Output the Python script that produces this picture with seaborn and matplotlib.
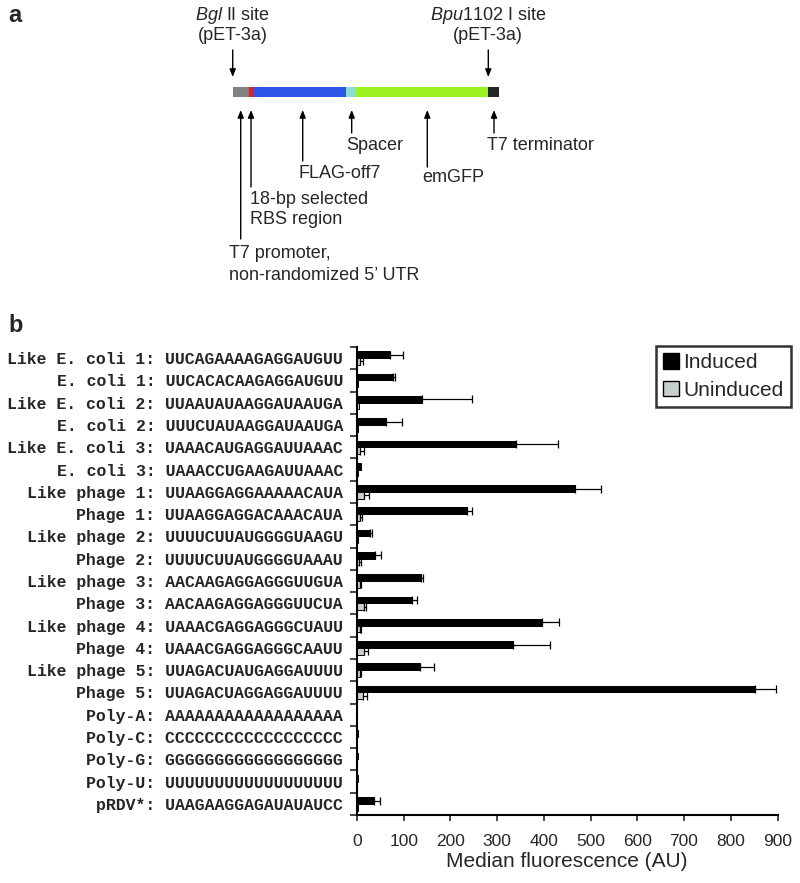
import numpy as np
import pandas as pd
import matplotlib
matplotlib.use('Agg')
import matplotlib.pyplot as plt
from matplotlib.patches import Patch
import seaborn as sns

sns.set_style('white')
plt.rcParams['font.family'] = ['Liberation Sans', 'DejaVu Sans']
plt.rcParams['mathtext.fontset'] = 'custom'
plt.rcParams['mathtext.rm'] = 'Liberation Sans'
plt.rcParams['mathtext.it'] = 'Liberation Sans:italic'

# panel b data
names = ["Like E. coli 1", "E. coli 1", "Like E. coli 2", "E. coli 2",
         "Like E. coli 3", "E. coli 3", "Like phage 1", "Phage 1",
         "Like phage 2", "Phage 2", "Like phage 3", "Phage 3",
         "Like phage 4", "Phage 4", "Like phage 5", "Phage 5",
         "Poly-A", "Poly-C", "Poly-G", "Poly-U", "pRDV*"]
seqs = ["UUCAGAAAAGAGGAUGUU", "UUCACACAAGAGGAUGUU", "UUAAUAUAAGGAUAAUGA",
        "UUUCUAUAAGGAUAAUGA", "UAAACAUGAGGAUUAAAC", "UAAACCUGAAGAUUAAAC",
        "UUAAGGAGGAAAAACAUA", "UUAAGGAGGACAAACAUA", "UUUUCUUAUGGGGUAAGU",
        "UUUUCUUAUGGGGUAAAU", "AACAAGAGGAGGGUUGUA", "AACAAGAGGAGGGUUCUA",
        "UAAACGAGGAGGGCUAUU", "UAAACGAGGAGGGCAAUU", "UUAGACUAUGAGGAUUUU",
        "UUAGACUAGGAGGAUUUU", "AAAAAAAAAAAAAAAAAA", "CCCCCCCCCCCCCCCCCC",
        "GGGGGGGGGGGGGGGGGG", "UUUUUUUUUUUUUUUUUU", "UAAGAAGGAGAUAUAUCC"]
induced = [71, 77, 140, 61, 340, 8, 466, 235, 27, 39, 136, 118,
           395, 333, 135, 851, 1, 1.5, 3, 3, 36]
induced_err = [28, 4, 107, 35, 91, 0, 56, 12, 6, 12, 5, 11,
               38, 80, 30, 46, 0, 0, 0, 0, 14]
uninduced = [7, 2, 5, 2, 7, 2, 14, 6, 3, 5, 6, 14, 6, 14, 6, 13, 1, 1, 1, 1, 2]
uninduced_err = [6, 0, 0, 0, 7, 0, 12, 5, 0, 3, 3, 5, 2, 10, 2, 8, 0, 0, 0, 0, 0]
conditions = ["Induced", "Uninduced"]

# panel a construct segments (diagram units = pixels)
seg_names = ["T7 promoter / 5' UTR", "RBS", "FLAG-off7", "Spacer", "emGFP", "T7 terminator"]
seg_len = [16, 5, 92, 10, 132, 11]
seg_colors = ['#7f8381', '#d8232a', '#2d55e6', '#8ddcd4', '#9cf21e', '#232827']

labels = [f"{n}: {s}" for n, s in zip(names, seqs)]
df = pd.DataFrame({
    'label': labels * 2,
    'value': induced + uninduced,
    'err': induced_err + uninduced_err,
    'condition': [conditions[0]] * len(labels) + [conditions[1]] * len(labels),
})

W, H = 800, 883
fig = plt.figure(figsize=(W / 100, H / 100), dpi=100)

# ---------- panel a ----------
axa = fig.add_axes([0, 0, 1, 1])
axa.set_xlim(0, W)
axa.set_ylim(H, 0)
axa.axis('off')

x0 = 233.3
lefts = x0 + np.concatenate([[0], np.cumsum(seg_len)[:-1]])
axa.barh(92.3, seg_len, left=lefts, height=10, color=seg_colors, linewidth=0)

astyle = dict(arrowstyle='-|>,head_length=0.45,head_width=0.18', color='black',
              lw=1.0, mutation_scale=10, shrinkA=0, shrinkB=0)
for x in [232.7, 488.3]:
    axa.annotate('', xy=(x, 77), xytext=(x, 50), arrowprops=astyle)
for x, yb in [(240.7, 239), (251, 187), (302.7, 161), (351.7, 133), (427.3, 167), (494, 133)]:
    axa.annotate('', xy=(x, 110), xytext=(x, yb), arrowprops=astyle)

fs = 13
axa.text(232.7, 15, r"$Bgl$ II site", ha='center', va='center', fontsize=fs)
axa.text(232.7, 36, "(pET-3a)", ha='center', va='center', fontsize=fs)
axa.text(488.3, 15, r"$Bpu$1102 I site", ha='center', va='center', fontsize=fs)
axa.text(488.3, 36, "(pET-3a)", ha='center', va='center', fontsize=fs)
for txt, x, y in [("Spacer", 346, 146), ("T7 terminator", 487, 146),
                  ("FLAG-off7", 299, 173), ("emGFP", 422, 178),
                  ("18-bp selected", 250, 199), ("RBS region", 250, 220),
                  ("T7 promoter,", 229, 254), ("non-randomized 5\u2019 UTR", 229, 275)]:
    axa.text(x, y, txt, ha='left', va='center', fontsize=fs)
axa.text(8, 15, "a", ha='left', va='center', fontsize=17, fontweight='bold')
axa.text(8, 325, "b", ha='left', va='center', fontsize=17, fontweight='bold')

# ---------- panel b ----------
ax = fig.add_axes([357 / W, 1 - 815 / H, 420.5 / W, 468 / H])
sns.barplot(data=df, x='value', y='label', hue='condition', orient='h',
            palette={'Induced': 'black', 'Uninduced': '#c8d0cf'},
            width=0.6, edgecolor='black', linewidth=0.7, errorbar=None,
            legend=False, ax=ax)

for cont, cond in zip(ax.containers, conditions):
    sub = df[df['condition'] == cond]
    ys = [b.get_y() + b.get_height() / 2 for b in cont]
    vals = sub['value'].to_numpy()
    errs = sub['err'].to_numpy()
    m = errs > 0
    ax.errorbar(vals[m], np.array(ys)[m], xerr=[np.zeros(m.sum()), errs[m]],
                fmt='none', ecolor='black', elinewidth=0.9, capsize=3, capthick=0.9)

ax.set_xlim(0, 900)
ax.set_ylim(len(labels) - 0.5, -0.5)
ax.set_xticks(np.arange(0, 901, 100))
ax.set_yticks(np.arange(-0.5, len(labels), 1), minor=True)
ax.tick_params(axis='y', which='major', length=0, pad=10)
ax.tick_params(axis='y', which='minor', length=5, width=1.2, direction='out', left=True)
ax.tick_params(axis='x', length=4, width=1.2, direction='out', bottom=True, pad=10, labelsize=12.5)
for t in ax.get_yticklabels():
    t.set_fontfamily('Liberation Mono')
    t.set_fontweight('bold')
    t.set_fontsize(11.9)
ax.set_ylabel('')
ax.set_xlabel('Median fluorescence (AU)', fontsize=15, labelpad=2)
sns.despine(ax=ax)
for s in ['left', 'bottom']:
    ax.spines[s].set_linewidth(1.5)
    ax.spines[s].set_color('black')

handles = [Patch(facecolor='black', edgecolor='black'),
           Patch(facecolor='#c8d0cf', edgecolor='black')]
leg = ax.legend(handles, conditions, loc='upper right',
                bbox_to_anchor=(790.7 / W, 1 - 346 / H), bbox_transform=fig.transFigure,
                fontsize=15, handlelength=0.75, handleheight=0.75, handletextpad=0.2,
                borderpad=0.35, labelspacing=0.4, borderaxespad=0,
                fancybox=False, frameon=True)
leg.get_frame().set_edgecolor('black')
leg.get_frame().set_linewidth(1.8)

fig.savefig('out.png', dpi=100)
